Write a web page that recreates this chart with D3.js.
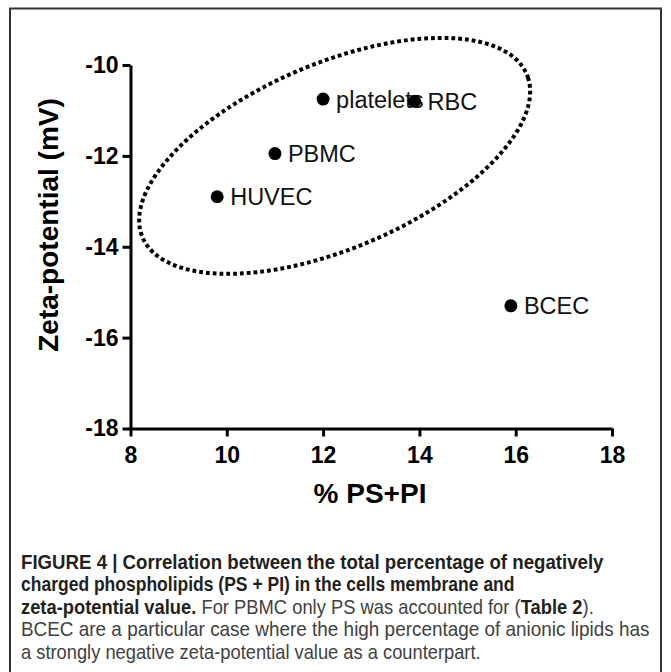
<!DOCTYPE html>
<html>
<head>
<meta charset="utf-8">
<script src="https://cdn.jsdelivr.net/npm/d3@7"></script>
<style>
  html, body { margin: 0; padding: 0; background: #fff; }
  svg { display: block; }
</style>
</head>
<body>
<svg id="chart" width="671" height="672"></svg>
<script>
// ---- data ----
const cellTypes = ["HUVEC", "PBMC", "platelets", "RBC", "BCEC"];
const psPi = [9.8, 11.0, 12.0, 13.9, 15.9];
const zeta = [-12.9, -11.95, -10.75, -10.8, -15.3];
const xTicks = [8, 10, 12, 14, 16, 18];
const yTicks = [-18, -16, -14, -12, -10];
const xTitle = "% PS+PI";
const yTitle = "Zeta-potential (mV)";
// grouping ellipse annotation: centre in data units
const groupCentre = [12.24, -12.0];
const captionLines = [
  [["FIGURE 4 | Correlation between the total percentage of negatively", true]],
  [["charged phospholipids (PS + PI) in the cells membrane and", true]],
  [["zeta-potential value.", true], [" For PBMC only PS was accounted for (", false], ["Table 2", true], [").", false]],
  [["BCEC are a particular case where the high percentage of anionic lipids has", false]],
  [["a strongly negative zeta-potential value as a counterpart.", false]]
];

// ---- layout ----
const svg = d3.select("#chart");
const x = d3.scaleLinear().domain([8, 18]).range([130.5, 612]);
const y = d3.scaleLinear().domain([-18, -10]).range([428.5, 65]);
const axisY0 = 428.5, axisX0 = 130.5;
const tickFont = "'Liberation Sans', Arial, Helvetica, sans-serif";

// frame
svg.append("rect")
  .attr("x", 10).attr("y", 8.5).attr("width", 651).attr("height", 700)
  .attr("fill", "none").attr("stroke", "#333").attr("stroke-width", 2);

// x axis
const gx = svg.append("g").attr("transform", `translate(0,${axisY0})`)
  .call(d3.axisBottom(x).tickValues(xTicks).tickFormat(d3.format("d"))
    .tickSize(8).tickSizeOuter(0).tickPadding(10));
// y axis
const gy = svg.append("g").attr("transform", `translate(${axisX0},0)`)
  .call(d3.axisLeft(y).tickValues(yTicks).tickFormat(d3.format("d"))
    .tickSize(8).tickSizeOuter(0).tickPadding(4));
[gx, gy].forEach(g => {
  g.select(".domain").attr("stroke", "#000").attr("stroke-width", 3);
  g.selectAll(".tick line").attr("stroke", "#000").attr("stroke-width", 3);
  g.selectAll(".tick text").attr("fill", "#000")
    .style("font-family", tickFont).style("font-size", "23px").style("font-weight", "bold");
});
gy.selectAll(".tick text").text(d => d3.format("d")(d).replace("\u2212", "-"));

// axis titles
svg.append("text")
  .attr("x", 370).attr("y", 503).attr("text-anchor", "middle")
  .style("font-family", tickFont).style("font-size", "28px").style("font-weight", "bold")
  .text(xTitle);
svg.append("text")
  .attr("transform", "translate(58,225) rotate(-90)").attr("text-anchor", "middle")
  .style("font-family", tickFont).style("font-size", "28px").style("font-weight", "bold")
  .text(yTitle);

// dotted grouping ellipse (pixel-space rotated ellipse around the data centre)
const cx = x(groupCentre[0]), cy = y(groupCentre[1]);
const semiA = 208.7, semiB = 92.6, tilt = -23 * Math.PI / 180;
const ellPts = d3.range(0, 360, 2).map(deg => {
  const t = deg * Math.PI / 180;
  return [cx + semiA * Math.cos(t) * Math.cos(tilt) - semiB * Math.sin(t) * Math.sin(tilt),
          cy + semiA * Math.cos(t) * Math.sin(tilt) + semiB * Math.sin(t) * Math.cos(tilt)];
});
svg.append("path")
  .attr("d", d3.line().curve(d3.curveCardinalClosed)(ellPts))
  .attr("fill", "none").attr("stroke", "#000").attr("stroke-width", 4)
  .attr("stroke-dasharray", "3.8,3").attr("stroke-linecap", "butt");

// point labels then points
const pts = cellTypes.map((c, i) => ({ name: c, x: psPi[i], y: zeta[i] }));
svg.append("g").selectAll("text").data(pts).join("text")
  .attr("x", d => x(d.x) + 13).attr("y", d => y(d.y)).attr("dy", "0.36em")
  .style("font-family", tickFont).style("font-size", "23.5px").attr("fill", "#111")
  .text(d => d.name);
svg.append("g").selectAll("circle").data(pts).join("circle")
  .attr("cx", d => x(d.x)).attr("cy", d => y(d.y)).attr("r", 6.5).attr("fill", "#000");

// caption
const capX = 21, capBase = 569, capStep = 22.5;
const capTargets = [583, 494, 573, 629, 460];
const capFont = "'Liberation Sans Narrow', 'Liberation Sans', Arial, sans-serif";
captionLines.forEach((segs, i) => {
  const t = svg.append("text")
    .attr("x", capX).attr("y", capBase + i * capStep)
    .style("font-family", capFont).style("font-size", "20px");
  segs.forEach(([s, b]) => {
    t.append("tspan").text(s)
      .style("font-weight", b ? "bold" : "normal")
      .attr("fill", b ? "#231f20" : "#414042");
  });
  const w = t.node().getComputedTextLength();
  const k = capTargets[i] / w;
  t.attr("transform", `translate(${capX},0) scale(${k},1) translate(${-capX},0)`);
});
</script>
</body>
</html>
